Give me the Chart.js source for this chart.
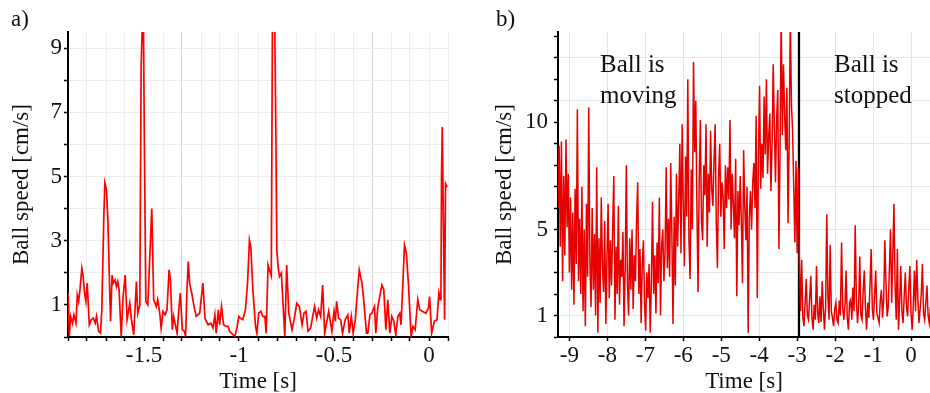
<!DOCTYPE html>
<html>
<head>
<meta charset="utf-8">
<script src="https://cdn.jsdelivr.net/npm/chart.js@4.4.1/dist/chart.umd.min.js"></script>
<style>
  body { margin: 0; background: #fff; width: 930px; height: 393px; position: relative; overflow: hidden;
         font-family: "Liberation Serif", "DejaVu Serif", serif; color: #111; }
  canvas { position: absolute; top: 0; }
  .lbl { position: absolute; font-size: 23px; line-height: 23px; }
  .note { position: absolute; font-size: 25px; line-height: 31px; }
</style>
</head>
<body>
<canvas id="chartA" width="460" height="393" style="left:0"></canvas>
<canvas id="chartB" width="470" height="393" style="left:460px"></canvas>
<div class="lbl" style="left:11px;top:7px">a)</div>
<div class="lbl" style="left:496px;top:7px">b)</div>
<div class="note" style="left:600px;top:48px">Ball is<br>moving</div>
<div class="note" style="left:834px;top:48px">Ball is<br>stopped</div>
<script>
// panel a) - short window around the kicks
const leftTime = [-1.899,-1.893,-1.886,-1.876,-1.869,-1.858,-1.851,-1.844,-1.837,-1.827,-1.820,-1.813,-1.806,-1.799,-1.788,-1.778,-1.767,-1.757,-1.750,-1.739,
  -1.729,-1.722,-1.711,-1.706,-1.697,-1.690,-1.683,-1.676,-1.668,-1.662,-1.652,-1.645,-1.638,-1.631,-1.620,-1.610,-1.599,-1.589,-1.575,-1.566,
  -1.554,-1.540,-1.533,-1.522,-1.515,-1.508,-1.503,-1.498,-1.490,-1.480,-1.459,-1.449,-1.435,-1.428,-1.417,-1.410,-1.400,-1.389,-1.379,-1.368,
  -1.361,-1.351,-1.344,-1.337,-1.326,-1.316,-1.309,-1.298,-1.288,-1.281,-1.274,-1.267,-1.260,-1.249,-1.235,-1.225,-1.207,-1.190,-1.179,-1.172,
  -1.162,-1.148,-1.137,-1.127,-1.120,-1.109,-1.102,-1.092,-1.081,-1.067,-1.057,-1.050,-1.032,-1.022,-1.011,-1.001,-0.994,-0.980,-0.966,-0.955,
  -0.945,-0.938,-0.927,-0.913,-0.906,-0.896,-0.885,-0.875,-0.864,-0.857,-0.847,-0.840,-0.830,-0.824,-0.812,-0.806,-0.801,-0.794,-0.787,-0.777,
  -0.759,-0.749,-0.738,-0.721,-0.710,-0.696,-0.682,-0.668,-0.658,-0.647,-0.637,-0.623,-0.612,-0.602,-0.591,-0.581,-0.570,-0.560,-0.549,-0.528,
  -0.521,-0.511,-0.500,-0.493,-0.486,-0.476,-0.465,-0.455,-0.441,-0.427,-0.420,-0.409,-0.399,-0.388,-0.378,-0.367,-0.353,-0.343,-0.329,-0.322,
  -0.311,-0.301,-0.287,-0.280,-0.269,-0.248,-0.238,-0.227,-0.217,-0.206,-0.196,-0.185,-0.175,-0.164,-0.154,-0.147,-0.129,-0.119,-0.108,-0.094,
  -0.084,-0.073,-0.059,-0.049,-0.035,-0.017,-0.003,0.003,0.014,0.028,0.042,0.052,0.059,0.063,0.066,0.070,0.077,0.082,0.087,0.096];
const leftSpeed = [1.37,0.04,0.64,0.43,0.69,0.43,1.31,1.11,1.47,2.14,1.88,1.37,1.11,1.68,0.38,0.54,0.59,0.43,0.64,0.18,
  0.12,0.85,3.85,4.80,4.57,3.64,1.99,0.49,1.93,1.68,1.78,1.57,1.73,1.47,0.02,1.26,1.93,0.54,1.05,0.54,
  0.07,1.73,0.74,1.00,8.45,9.9,9.8,6.00,1.10,1.00,4.00,1.16,0.95,1.16,0.74,0.28,0.80,0.69,0.85,2.09,
  1.78,0.23,0.64,0.43,0.12,0.90,1.37,0.23,0.18,0.02,1.47,2.35,1.68,1.37,0.90,0.64,0.74,1.68,0.59,0.49,
  0.38,0.43,0.28,0.69,0.12,0.85,0.38,0.95,0.38,0.33,0.33,0.18,0.07,0.02,0.28,0.64,0.59,0.54,0.85,1.68,
  3.02,2.81,1.47,0.33,0.12,0.74,0.80,0.64,0.64,0.12,2.24,2.09,1.90,9.9,9.8,6.40,2.70,2.19,1.88,1.99,
  0.02,2.24,0.74,0.23,0.54,1.05,0.95,0.38,0.74,0.80,0.18,0.28,0.64,0.95,0.59,0.85,0.64,1.62,0.12,0.80,
  0.54,0.18,0.80,0.49,1.11,0.59,0.54,0.12,0.54,0.69,0.12,0.64,0.12,0.54,1.31,2.09,1.68,1.11,0.12,0.12,
  0.69,0.74,0.95,0.12,0.95,1.62,1.47,0.23,1.16,0.12,0.64,0.49,0.07,0.64,0.74,0.38,2.86,2.61,1.62,0.02,
  0.33,0.23,1.16,0.85,0.80,0.74,0.90,1.26,0.12,0.49,0.54,1.37,1.16,1.47,5.09,6.54,2.92,0.54,4.78,4.67];

// panel b) - sampled every 30 ms from -9.3 s
const rightStart = -9.3;
const rightStep = 0.03;
const rightSpeed = [
  // moving
  6.0,8.9,4.2,9.1,2.6,7.5,3.8,9.2,5.1,7.6,
  3.0,6.5,2.2,5.8,1.5,6.9,3.4,10.6,2.6,5.5,
  2.0,7.0,1.2,5.0,0.5,6.2,2.8,10.7,3.5,1.4,
  6.0,2.2,4.8,1.0,7.9,0.2,4.6,1.6,6.5,3.4,
  2.1,5.4,0.6,3.8,6.2,1.8,4.5,2.4,5.0,7.5,
  0.8,4.2,2.0,6.1,1.5,3.6,2.8,4.9,0.5,3.2,
  8.0,2.4,1.0,4.6,2.2,5.0,1.3,3.8,2.6,5.4,
  7.2,2.0,4.1,0.65,3.4,4.5,1.6,0.3,3.0,1.8,
  3.4,0.2,2.6,6.3,2.0,3.8,1.1,4.4,2.5,6.5,
  1.0,4.2,5.0,2.6,4.0,7.9,3.2,5.5,2.8,8.1,
  4.8,0.6,5.6,2.4,7.6,4.2,6.3,9.0,3.9,9.9,
  6.2,3.3,8.4,5.6,12.0,4.5,2.7,7.8,5.0,12.8,
  8.6,11.0,6.0,2.1,7.3,10.1,5.4,4.5,8.0,6.6,
  9.9,4.2,7.6,5.8,9.6,6.9,6.1,8.2,9.9,5.3,
  3.2,7.4,9.0,5.6,7.2,6.5,4.1,8.0,6.0,7.9,
  6.4,10.1,5.0,7.6,6.2,4.6,8.3,1.9,6.8,5.2,
  7.5,5.4,2.5,8.7,6.1,4.5,7.0,0.2,5.6,6.8,
  5.0,7.2,8.1,6.0,10.3,1.8,8.4,11.7,6.9,9.0,
  7.4,11.2,8.5,12.0,7.6,9.3,10.4,6.8,8.9,12.7,
  9.8,7.2,10.2,11.5,4.1,8.8,15.0,9.4,12.7,10.4,
  8.7,11.6,5.3,9.0,15.0,10.8,9.6,7.0,4.4,8.2,
  3.9,7.9,
  // stopped
  3.4,1.2,3.6,0.9,0.5,1.6,2.7,1.0,0.8,1.8,
  2.85,0.9,0.34,1.5,0.8,3.3,1.1,0.65,1.9,0.7,
  2.6,1.3,0.34,1.4,5.7,1.9,0.8,4.3,1.2,0.9,
  0.5,1.3,1.6,0.8,0.65,1.7,1.0,4.4,1.4,0.8,
  1.5,3.1,0.9,0.34,1.6,1.74,0.8,2.3,1.2,5.2,
  1.8,0.65,1.4,3.75,1.0,0.8,2.2,3.1,1.3,0.34,
  1.6,0.9,2.5,4.1,1.3,0.8,1.9,3.1,1.1,0.9,
  0.65,1.7,2.2,0.9,1.8,4.5,2.6,0.96,1.4,3.2,
  5.0,1.6,3.8,6.2,2.4,0.8,4.1,0.34,1.7,3.3,
  1.2,0.65,1.9,3.0,1.4,0.96,2.2,3.3,1.1,0.34,
  1.5,3.1,1.2,3.6,1.8,0.65,1.3,2.0,3.4,1.1,
  0.8,1.6,2.4,1.0,0.65,1.4];
const stopTime = -2.95;

const leftXLabels = [-1.5, -1, -0.5, 0];
const leftYLabels = [1, 3, 5, 7, 9];
const rightXLabels = [-9, -8, -7, -6, -5, -4, -3, -2, -1, 0];
const rightYLabels = [1, 5, 10];

const serif = "'Liberation Serif', 'DejaVu Serif', serif";
const ink = '#111';
const rightTime = rightSpeed.map((_, i) => +(rightStart + i * rightStep).toFixed(2));

function pairs(xs, ys) {
  return xs.map((x, i) => ({ x: x, y: ys[i] }));
}
function hasLabel(list, v) {
  return list.some(l => Math.abs(l - v) < 1e-6);
}
function fmt(v) {
  return String(Math.round(v * 10) / 10);
}

function axes(o) {
  return {
    x: {
      type: 'linear', min: o.xMin, max: o.xMax,
      afterFit: s => { s.height = 56; },
      border: { color: '#000', width: 2 },
      grid: { color: o.xGrid, lineWidth: 1, tickColor: '#000', tickLength: 4, tickWidth: 1.5 },
      ticks: {
        stepSize: o.xStep, includeBounds: false, autoSkip: false, maxRotation: 0, padding: 1,
        color: ink, font: { family: serif, size: 23 },
        callback: v => hasLabel(o.xLabels, v) ? fmt(v) : ''
      },
      title: { display: true, text: 'Time [s]', color: ink, font: { family: serif, size: 23, lineHeight: 1 }, padding: { top: 0, bottom: 0 } }
    },
    y: {
      type: 'linear', min: 0, max: o.yMax,
      afterFit: s => { s.width = o.yWidth; },
      border: { color: '#000', width: 2 },
      grid: { color: o.yGrid, lineWidth: 1, tickColor: '#000', tickLength: 4, tickWidth: 1.5 },
      ticks: {
        stepSize: 1, includeBounds: false, autoSkip: false, padding: o.yPad,
        color: ink, font: { family: serif, size: 23 },
        callback: v => hasLabel(o.yLabels, v) ? fmt(v) : ''
      },
      title: { display: true, text: 'Ball speed [cm/s]', color: ink, font: { family: serif, size: 23, lineHeight: 1 }, padding: { top: o.yTitlePad, bottom: 0 } }
    }
  };
}

const common = {
  responsive: false,
  animation: false,
  plugins: { legend: { display: false }, tooltip: { enabled: false } }
};

new Chart(document.getElementById('chartA'), {
  type: 'line',
  data: {
    datasets: [{
      data: pairs(leftTime, leftSpeed),
      borderColor: '#ff0000', borderWidth: 1.7, pointRadius: 0, tension: 0
    }]
  },
  options: Object.assign({}, common, {
    layout: { padding: { top: 32, right: 12, left: 0, bottom: 0 } },
    scales: axes({
      xMin: -1.9, xMax: 0.1, xStep: 0.1, xLabels: leftXLabels,
      xGrid: c => (c.tick && (Math.abs(c.tick.value + 1.3) < 1e-6 || Math.abs(c.tick.value + 0.3) < 1e-6)) ? '#d6d6d6' : '#ededed',
      yMax: 9.5, yLabels: leftYLabels, yWidth: 68, yPad: 2, yTitlePad: 10,
      yGrid: '#ededed'
    })
  })
});

new Chart(document.getElementById('chartB'), {
  type: 'line',
  data: {
    datasets: [{
      data: pairs(rightTime, rightSpeed),
      borderColor: '#e60000', borderWidth: 1.5, pointRadius: 0, tension: 0
    }, {
      data: [{ x: stopTime, y: 0 }, { x: stopTime, y: 14.2 }],
      borderColor: '#000', borderWidth: 2.2, pointRadius: 0
    }]
  },
  options: Object.assign({}, common, {
    layout: { padding: { top: 32, right: 0, left: 0, bottom: 0 } },
    scales: axes({
      xMin: -9.3, xMax: 0.5, xStep: 1, xLabels: rightXLabels,
      xGrid: '#e6e6e6',
      yMax: 14.2, yLabels: rightYLabels, yWidth: 98, yPad: 6, yTitlePad: 33,
      yGrid: c => (c.tick && c.tick.value % 2 === 1) ? '#e6e6e6' : 'rgba(0,0,0,0)'
    })
  })
});
</script>
</body>
</html>
